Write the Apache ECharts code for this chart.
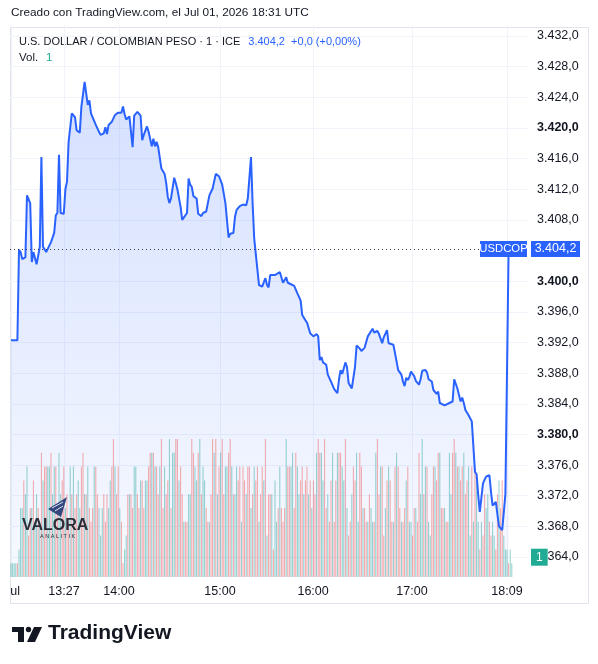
<!DOCTYPE html>
<html><head><meta charset="utf-8">
<script src="https://cdn.jsdelivr.net/npm/echarts@6/dist/echarts.min.js"></script>
<style>html,body{margin:0;padding:0;background:#fff}#c{width:598px;height:664px}</style>
</head><body><div id="c"></div>
<script>
const createdText = 'Creado con TradingView.com, el Jul 01, 2026 18:31 UTC';
const symbolTitle = 'U.S. DOLLAR / COLOMBIAN PESO · 1 · ICE';
const quoteText = '3.404,2  +0,0 (+0,00%)';
const volTitle = 'Vol.';
const volLastText = '1';
const tickerName = 'USDCOP';
const lastPrice = 3404.2;
const lastVolume = 1;

const timeTickIndex = [0.44, 33.1, 67.5, 130.6, 188.8, 250.6, 310];
const timeTickLabels = ['ul', '13:27', '14:00', '15:00', '16:00', '17:00', '18:09'];
const priceTicks = [3364,3368,3372,3376,3380,3384,3388,3392,3396,3400,3408,3412,3416,3420,3424,3428,3432];
const boldPriceTicks = [3380, 3400, 3420];

const priceIdx = [0,4,5,6,7,9,10,12,13,14,16,18,19,20,21,22,25,27,28,29,30,31,33,34,35,36,38,40,41,43,44,46,47,48,49,50,51,53,55,56,58,59,60,61,63,65,67,69,70,71,72,74,75,76,77,78,79,81,82,83,85,86,88,89,90,91,92,94,96,97,98,99,100,102,103,104,106,107,108,110,111,112,113,114,115,116,117,119,120,122,124,126,128,130,132,134,136,137,139,140,141,143,145,147,148,149,150,151,152,153,155,156,157,159,160,161,162,165,166,168,170,172,173,175,177,179,181,182,184,185,187,189,191,192,193,194,195,197,198,200,202,204,205,206,207,209,210,211,213,215,216,218,219,221,222,223,224,226,227,229,230,232,233,235,236,237,239,241,242,244,245,246,247,248,249,250,252,253,255,256,257,259,260,261,263,264,266,267,268,271,272,274,276,277,278,279,281,282,283,284,286,288,289,290,291,292,293,294,295,296,297,299,300,301,302,303,305,306,307,308,309,310,311];
const priceVal = [3392.3,3392.3,3404.1,3403.8,3402.9,3403.1,3411.2,3410.2,3402.5,3403.8,3402.2,3404.5,3416.2,3404.5,3404.6,3403.8,3405.1,3406.3,3408.6,3408.9,3416.5,3408.9,3408.8,3412.0,3413.0,3418.2,3421.9,3421.4,3419.7,3419.4,3422.8,3426.0,3424.5,3423.0,3423.6,3421.9,3421.8,3420.4,3419.5,3419.1,3419.3,3420.1,3419.2,3420.4,3420.8,3421.7,3422.0,3422.0,3422.8,3421.8,3421.1,3421.5,3421.3,3417.5,3421.6,3421.6,3422.1,3421.6,3418.4,3419.1,3420.2,3419.5,3417.6,3418.6,3417.6,3418.2,3417.5,3414.7,3414.0,3412.8,3411.0,3410.2,3410.8,3413.5,3412.8,3412.0,3409.7,3408.0,3408.2,3408.9,3413.4,3412.6,3412.3,3411.1,3411.3,3410.8,3408.8,3408.5,3408.9,3409.1,3411.2,3412.1,3414.0,3413.7,3412.6,3410.2,3405.7,3406.2,3406.3,3408.4,3409.3,3409.8,3410.0,3409.9,3410.8,3411.0,3416.2,3410.2,3405.6,3405.8,3399.5,3399.7,3399.3,3400.4,3399.5,3399.2,3400.8,3400.8,3401.0,3401.2,3399.8,3400.5,3399.8,3399.6,3399.4,3398.4,3397.5,3395.6,3394.9,3394.6,3393.2,3392.8,3393.1,3392.8,3389.7,3390.1,3389.4,3389.1,3387.8,3386.9,3385.9,3385.4,3387.2,3388.4,3387.9,3389.4,3388.8,3386.7,3386.0,3388.8,3391.6,3391.2,3390.9,3391.3,3391.2,3392.8,3392.8,3393.8,3393.3,3393.5,3393.1,3391.9,3392.7,3393.6,3391.9,3392.1,3391.7,3389.5,3388.4,3387.8,3386.9,3386.3,3387.4,3387.1,3387.5,3388.2,3387.6,3387.0,3386.5,3387.2,3388.3,3388.4,3388.1,3387.2,3386.9,3385.8,3385.3,3385.6,3384.1,3383.8,3383.7,3384.1,3384.3,3387.2,3387.0,3386.0,3384.3,3384.8,3384.1,3383.2,3382.5,3381.7,3378.4,3375.1,3374.8,3372.1,3369.9,3369.7,3373.6,3374.1,3374.5,3374.7,3372.5,3370.7,3370.9,3371.2,3368.0,3368.2,3367.5,3367.5,3372.2,3372.4,3404.2];

const volumes = [
1,1,1,1,1,2,5,5,7,6, 8,3,5,5,7,4,6,5,4,9, 7,8,8,8,8,9,6,8,8,5, 9,6,7,8,5,6,4,8,6,8,
5,6,7,5,8,9,6,6,8,5, 4,5,8,8,6,5,3,5,6,4, 6,5,7,8,10,8,6,8,5,4, 1,2,3,6,6,6,5,8,8,6,
5,7,7,5,7,7,8,9,9,9, 8,8,6,8,10,5,8,6,7,10, 5,9,9,10,10,7,8,6,4,4, 4,6,6,10,9,8,7,9,10,6,
8,7,5,4,4,6,10,9,10,6, 8,9,10,6,8,8,9,10,8,6, 6,8,7,8,4,8,7,6,8,8, 5,6,8,7,8,4,6,8,7,10,
3,6,6,6,2,7,4,5,8,5, 4,5,10,8,8,8,9,5,9,8, 6,7,8,6,7,8,6,7,5,7, 6,9,10,9,9,7,10,5,6,4,
7,9,4,7,9,9,9,8,7,10, 5,3,4,6,8,7,9,4,9,8, 5,5,4,4,6,5,4,4,9,10, 6,8,8,3,5,7,8,7,4,4,
8,9,8,5,4,4,5,7,8,4, 4,3,5,5,4,9,6,10,6,8, 8,4,3,6,8,8,7,9,9,5, 5,5,4,4,9,6,9,10,9,8,
8,7,8,9,6,7,8,3,8,4, 8,7,4,2,4,3,6,5,6,4, 3,4,3,2,6,7,5,7,3,2, 2,1,2,1];
const volumeDir =
'uuuuduuudu'+'udduduudud'+'udduuduudd'+'uudduddudu'+'dduuddudud'+'ddudduuudd'+'duudduddud'+'duududduud'+
'dudduuddud'+'uddudduddu'+'duudduddud'+'duudduudud'+'uudduddudu'+'dudduuddud'+'uudduddudd'+'ududduddud'+
'udduduudud'+'ddudduuddu'+'udduddudud'+'dudduuddud'+'duddudduud'+'uddudduudd'+'udduduudud'+'duddududdu'+
'dudduddudu'+'uddudduudu'+'duudduddud'+'dudduuddud'+'uddudduudu'+'duududduud'+'duuddudduu'+'uduu';

const UP = 'rgba(38,166,154,0.5)';
const DOWN = 'rgba(239,83,80,0.5)';
const FONT = 'Liberation Sans, Arial, sans-serif';

function fmtPrice(v) {
  const s = v.toFixed(1).replace('.', ',');
  return s.replace(/^(\d)(\d{3})/, '$1.$2');
}

const lineData = priceIdx.map((x, k) => [x, priceVal[k]]);
const volData = volumes.map((v, i) => ({
  value: [i, v],
  itemStyle: { color: volumeDir[i] === 'd' ? DOWN : UP }
}));

const chart = echarts.init(document.getElementById('c'), null, { renderer: 'canvas' });
const option = {
  animation: false,
  backgroundColor: '#ffffff',
  textStyle: { fontFamily: FONT },
  grid: { left: 10, top: 25, width: 518, height: 552, containLabel: false },
  xAxis: {
    type: 'value', min: -0.625, max: 323.125,
    axisLine: { show: false },
    axisTick: { show: false, customValues: timeTickIndex },
    splitLine: { show: true, customValues: timeTickIndex, lineStyle: { color: '#f0f3fa', width: 1 } },
    axisLabel: {
      customValues: timeTickIndex, color: '#131722', fontSize: 12.5, margin: 8, fontFamily: FONT,
      formatter: v => {
        const k = timeTickIndex.indexOf(v);
        if (k === 0) return '{l|' + timeTickLabels[0] + '}';
        return k >= 0 ? timeTickLabels[k] : '';
      },
      rich: { l: { padding: [0, 0, 0, 7], fontSize: 12.5, color: '#131722' } }
    }
  },
  yAxis: [{
    type: 'value', position: 'right', min: 3361.39, max: 3433.44,
    axisLine: { show: false },
    axisTick: { show: false, customValues: priceTicks },
    splitLine: { show: true, customValues: priceTicks, lineStyle: { color: '#f0f3fa', width: 1 } },
    axisLabel: {
      customValues: priceTicks, margin: 9, color: '#131722', fontSize: 12.5, fontFamily: FONT,
      formatter: v => boldPriceTicks.includes(v) ? '{b|' + fmtPrice(v) + '}' : fmtPrice(v),
      rich: { b: { fontWeight: 'bold', fontSize: 12.5, color: '#131722' } }
    }
  }, {
    type: 'value', min: 0, max: 40, show: false, splitLine: { show: false }
  }],
  series: [{
    type: 'line', name: 'area', data: lineData, showSymbol: false, z: 1,
    lineStyle: { width: 0 },
    areaStyle: {
      color: new echarts.graphic.LinearGradient(0, 0, 0, 1, [
        { offset: 0, color: 'rgba(41,98,255,0.28)' },
        { offset: 1, color: 'rgba(41,98,255,0.05)' }
      ])
    },
    silent: true
  }, {
    type: 'bar', name: 'vol', data: volData, yAxisIndex: 1, barWidth: 1, z: 2,
    markLine: {
      symbol: 'none', silent: true,
      lineStyle: { color: 'rgba(0,0,0,0)', width: 0 },
      data: [{ yAxis: lastVolume }],
      label: {
        show: true, position: 'end', distance: 3,
        formatter: '{v|' + volLastText + '}',
        padding: [0, 0, 12, 0],
        rich: { v: { backgroundColor: '#22ab94', color: '#ffffff', fontSize: 12, padding: [3, 5, 2, 5], fontFamily: FONT } }
      },
      emphasis: { disabled: true }
    }
  }, {
    type: 'line', name: 'price', data: lineData, showSymbol: false, z: 3,
    lineStyle: { color: '#2962ff', width: 2 },
    markLine: {
      symbol: 'none', silent: true,
      lineStyle: { color: '#3c3f4a', type: [1, 3], width: 1 },
      data: [{ yAxis: lastPrice }],
      label: {
        show: true, position: 'end', distance: -48,
        formatter: '{a|' + tickerName + '}{g|}{b|' + fmtPrice(lastPrice) + '}',
        rich: {
          a: { backgroundColor: '#2962ff', color: '#fff', fontSize: 11.3, width: 47, height: 16, align: 'center', fontFamily: FONT },
          g: { width: 4 },
          b: { backgroundColor: '#2962ff', color: '#fff', fontSize: 12.5, width: 49, height: 16, align: 'center', fontFamily: FONT }
        }
      }
    }
  }],
  graphic: [
    { type: 'rect', shape: { x: 10.5, y: 27.5, width: 578, height: 576 }, style: { fill: 'none', stroke: '#e0e3eb', lineWidth: 1 }, silent: true, z: -1 },
    { type: 'text', left: 11, top: 7, style: { text: createdText, font: '11.8px ' + FONT, fill: '#131722' } },
    { type: 'text', left: 19, top: 36, style: {
        text: '{t|' + symbolTitle + '}{s|}{q|' + quoteText + '}',
        rich: {
          t: { font: '11px ' + FONT, fill: '#131722' },
          s: { width: 8 },
          q: { font: '11px ' + FONT, fill: '#2962ff' }
        } } },
    { type: 'text', left: 19, top: 52, style: { text: volTitle, font: '11.5px ' + FONT, fill: '#131722' } },
    { type: 'text', left: 46, top: 52, style: { text: volLastText, font: '11.5px ' + FONT, fill: '#22ab94' } },
    { type: 'polygon', shape: { points: [[48, 509], [67, 497], [61, 517]] }, style: { fill: '#34477d' }, z: 10 },
    { type: 'polyline', shape: { points: [[52, 508], [63, 502]] }, style: { stroke: '#dfe6f5', lineWidth: 1 }, z: 11 },
    { type: 'polyline', shape: { points: [[55, 511], [63, 506]] }, style: { stroke: '#dfe6f5', lineWidth: 1 }, z: 11 },
    { type: 'text', left: 22, top: 518, style: { text: 'VALORA', font: 'bold 16px ' + FONT, fill: '#2a2e39' }, z: 10 },
    { type: 'text', left: 40, top: 533, style: { text: 'A N A L I T I K', font: '5.5px ' + FONT, fill: '#2a2e39' }, z: 10 },
    { type: 'rect', shape: { x: 12, y: 627, width: 12, height: 5 }, style: { fill: '#131722' } },
    { type: 'rect', shape: { x: 18, y: 627, width: 6, height: 15 }, style: { fill: '#131722' } },
    { type: 'circle', shape: { cx: 28.5, cy: 629.5, r: 2.7 }, style: { fill: '#131722' } },
    { type: 'polygon', shape: { points: [[34, 627], [42, 627], [35, 642], [27, 642]] }, style: { fill: '#131722' } },
    { type: 'text', left: 48, top: 623, style: { text: 'TradingView', font: 'bold 21px ' + FONT, fill: '#131722' } }
  ]
};
chart.setOption(option);
</script>
</body></html>
